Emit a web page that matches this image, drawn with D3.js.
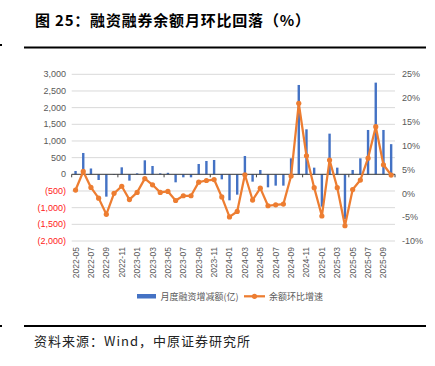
<!DOCTYPE html>
<html>
<head>
<meta charset="utf-8">
<script src="https://cdn.jsdelivr.net/npm/d3@7"></script>
<style>
  body { margin: 0; background: #fff; }
  svg { display: block; font-family: "Liberation Sans", Arial, sans-serif; }
</style>
</head>
<body>
<svg width="435" height="366"></svg>
<script>
var months = ["2022-05","2022-06","2022-07","2022-08","2022-09","2022-10","2022-11","2022-12",
  "2023-01","2023-02","2023-03","2023-04","2023-05","2023-06","2023-07","2023-08","2023-09","2023-10","2023-11","2023-12",
  "2024-01","2024-02","2024-03","2024-04","2024-05","2024-06","2024-07","2024-08","2024-09","2024-10","2024-11","2024-12",
  "2025-01","2025-02","2025-03","2025-04","2025-05","2025-06","2025-07","2025-08","2025-09","2025-10"];
// 月度融资增减额 (亿)
var netChange = [100,640,175,-170,-670,-20,210,-190,30,420,250,30,45,-240,-90,-90,310,400,430,-150,
  -780,-610,550,-220,130,-390,-340,-340,480,2680,1350,200,-970,1220,200,-1340,130,480,1330,2750,1330,905];
// 余额环比增速 (%)
var growth = [0.7,4.6,1.25,-1.0,-4.4,0.0,1.5,-1.3,0.2,3.1,1.8,0.2,0.4,-1.5,-0.5,-0.5,2.35,2.7,2.9,-0.75,
  -4.95,-3.8,3.9,-1.4,1.1,-2.6,-2.4,-2.25,3.65,18.9,7.9,1.2,-4.75,7.0,1.2,-6.8,0.8,2.8,7.4,14.0,6.0,3.85];
var leftTicks = [-2000,-1500,-1000,-500,0,500,1000,1500,2000,2500,3000];
var rightTicks = [-10,-5,0,5,10,15,20,25];
var seriesNames = ["月度融资增减额(亿)", "余额环比增速"];

var svg = d3.select("svg");
var plotLeft = 71.7, plotRight = 395, plotTop = 74.3, plotBottom = 241;

// title + rules
svg.append("text").attr("x", 35).attr("y", 26)
  .style("font-family", "'Noto Sans CJK SC', sans-serif")
  .style("font-size", "15px").style("font-weight", 700).style("letter-spacing", "0.8px").attr("fill", "#000")
  .text("图 25：融资融券余额月环比回落（%）");
svg.append("rect").attr("x", 24).attr("y", 46.5).attr("width", 402).attr("height", 2).attr("fill", "#000");
svg.append("rect").attr("x", 24).attr("y", 325).attr("width", 402).attr("height", 2).attr("fill", "#000");
svg.append("rect").attr("x", 0).attr("y", 44).attr("width", 2).attr("height", 2).attr("fill", "#000");
svg.append("rect").attr("x", 0).attr("y", 325).attr("width", 2).attr("height", 2).attr("fill", "#000");
svg.append("text").attr("x", 34).attr("y", 346)
  .style("font-family", "'Noto Sans CJK SC', sans-serif")
  .style("font-size", "13px").style("letter-spacing", "1px").attr("fill", "#222")
  .text("资料来源：Wind，中原证券研究所");

var x = d3.scaleBand().domain(months).range([plotLeft, plotRight]);
var yL = d3.scaleLinear().domain([-2000, 3000]).range([plotBottom, plotTop]);
var yR = d3.scaleLinear().domain([-10, 25]).range([plotBottom, plotTop]);

// grid
svg.append("g").selectAll("line").data(leftTicks).enter().append("line")
  .attr("x1", plotLeft).attr("x2", plotRight)
  .attr("y1", function(d) { return yL(d); }).attr("y2", function(d) { return yL(d); })
  .attr("stroke", "#d9d9d9").attr("stroke-width", 1);

// left axis
var fmt = d3.format(",");
svg.append("g").selectAll("text").data(leftTicks).enter().append("text")
  .attr("x", 66).attr("y", function(d) { return yL(d); }).attr("dy", "0.35em")
  .attr("text-anchor", "end").style("font-size", "9px")
  .attr("fill", function(d) { return d < 0 ? "#ff2020" : "#595959"; })
  .text(function(d) { return d < 0 ? "(" + fmt(-d) + ")" : fmt(d); });

// right axis
svg.append("g").selectAll("text").data(rightTicks).enter().append("text")
  .attr("x", 402).attr("y", function(d) { return yR(d); }).attr("dy", "0.35em")
  .style("font-size", "9px").attr("fill", "#595959")
  .text(function(d) { return d + "%"; });

// bars
var bw = 2.4;
svg.append("g").selectAll("rect").data(netChange).enter().append("rect")
  .attr("x", function(d, i) { return x(months[i]) + x.bandwidth() / 2 - bw / 2; })
  .attr("y", function(d) { return yL(Math.max(0, d)); })
  .attr("width", bw)
  .attr("height", function(d) { return Math.abs(yL(d) - yL(0)); })
  .attr("fill", "#4472c4");

// category axis line + ticks
svg.append("line").attr("x1", plotLeft).attr("x2", plotRight).attr("y1", yL(0)).attr("y2", yL(0))
  .attr("stroke", "#404040").attr("stroke-width", 1);
svg.append("g").selectAll("line").data(months.filter(function(d, i) { return i % 6 === 0; }).concat([null]))
  .enter().append("line")
  .attr("x1", function(d) { return d ? x(d) : plotRight; }).attr("x2", function(d) { return d ? x(d) : plotRight; })
  .attr("y1", yL(0)).attr("y2", yL(0) + 3)
  .attr("stroke", "#404040").attr("stroke-width", 1);

// x labels
svg.append("g").selectAll("text").data(months.filter(function(d, i) { return i % 2 === 0 && i < 41; }))
  .enter().append("text")
  .attr("transform", function(d) { return "translate(" + (x(d) + x.bandwidth() / 2) + ",247) rotate(-90)"; })
  .attr("dy", "0.35em").attr("text-anchor", "end")
  .style("font-size", "8.5px").attr("fill", "#595959")
  .text(function(d) { return d; });

// line
var line = d3.line()
  .x(function(d, i) { return x(months[i]) + x.bandwidth() / 2; })
  .y(function(d) { return yR(d); });
svg.append("path").datum(growth).attr("d", line)
  .attr("fill", "none").attr("stroke", "#ed7d31").attr("stroke-width", 2.25).attr("stroke-linejoin", "round");
svg.append("g").selectAll("circle").data(growth).enter().append("circle")
  .attr("cx", function(d, i) { return x(months[i]) + x.bandwidth() / 2; })
  .attr("cy", function(d) { return yR(d); })
  .attr("r", 2.6).attr("fill", "#ed7d31");

// legend
var lg = svg.append("g").style("font-family", "'Noto Sans CJK SC', sans-serif").style("font-size", "9px");
lg.append("rect").attr("x", 137).attr("y", 294).attr("width", 19).attr("height", 4.5).attr("fill", "#4472c4");
lg.append("text").attr("x", 160.5).attr("y", 296.5).attr("dy", "0.35em").attr("fill", "#595959").text(seriesNames[0]);
lg.append("line").attr("x1", 244).attr("x2", 265).attr("y1", 296.3).attr("y2", 296.3)
  .attr("stroke", "#ed7d31").attr("stroke-width", 2.25);
lg.append("circle").attr("cx", 254.5).attr("cy", 296.3).attr("r", 2.6).attr("fill", "#ed7d31");
lg.append("text").attr("x", 269).attr("y", 296.5).attr("dy", "0.35em").attr("fill", "#595959").text(seriesNames[1]);
</script>
</body>
</html>
